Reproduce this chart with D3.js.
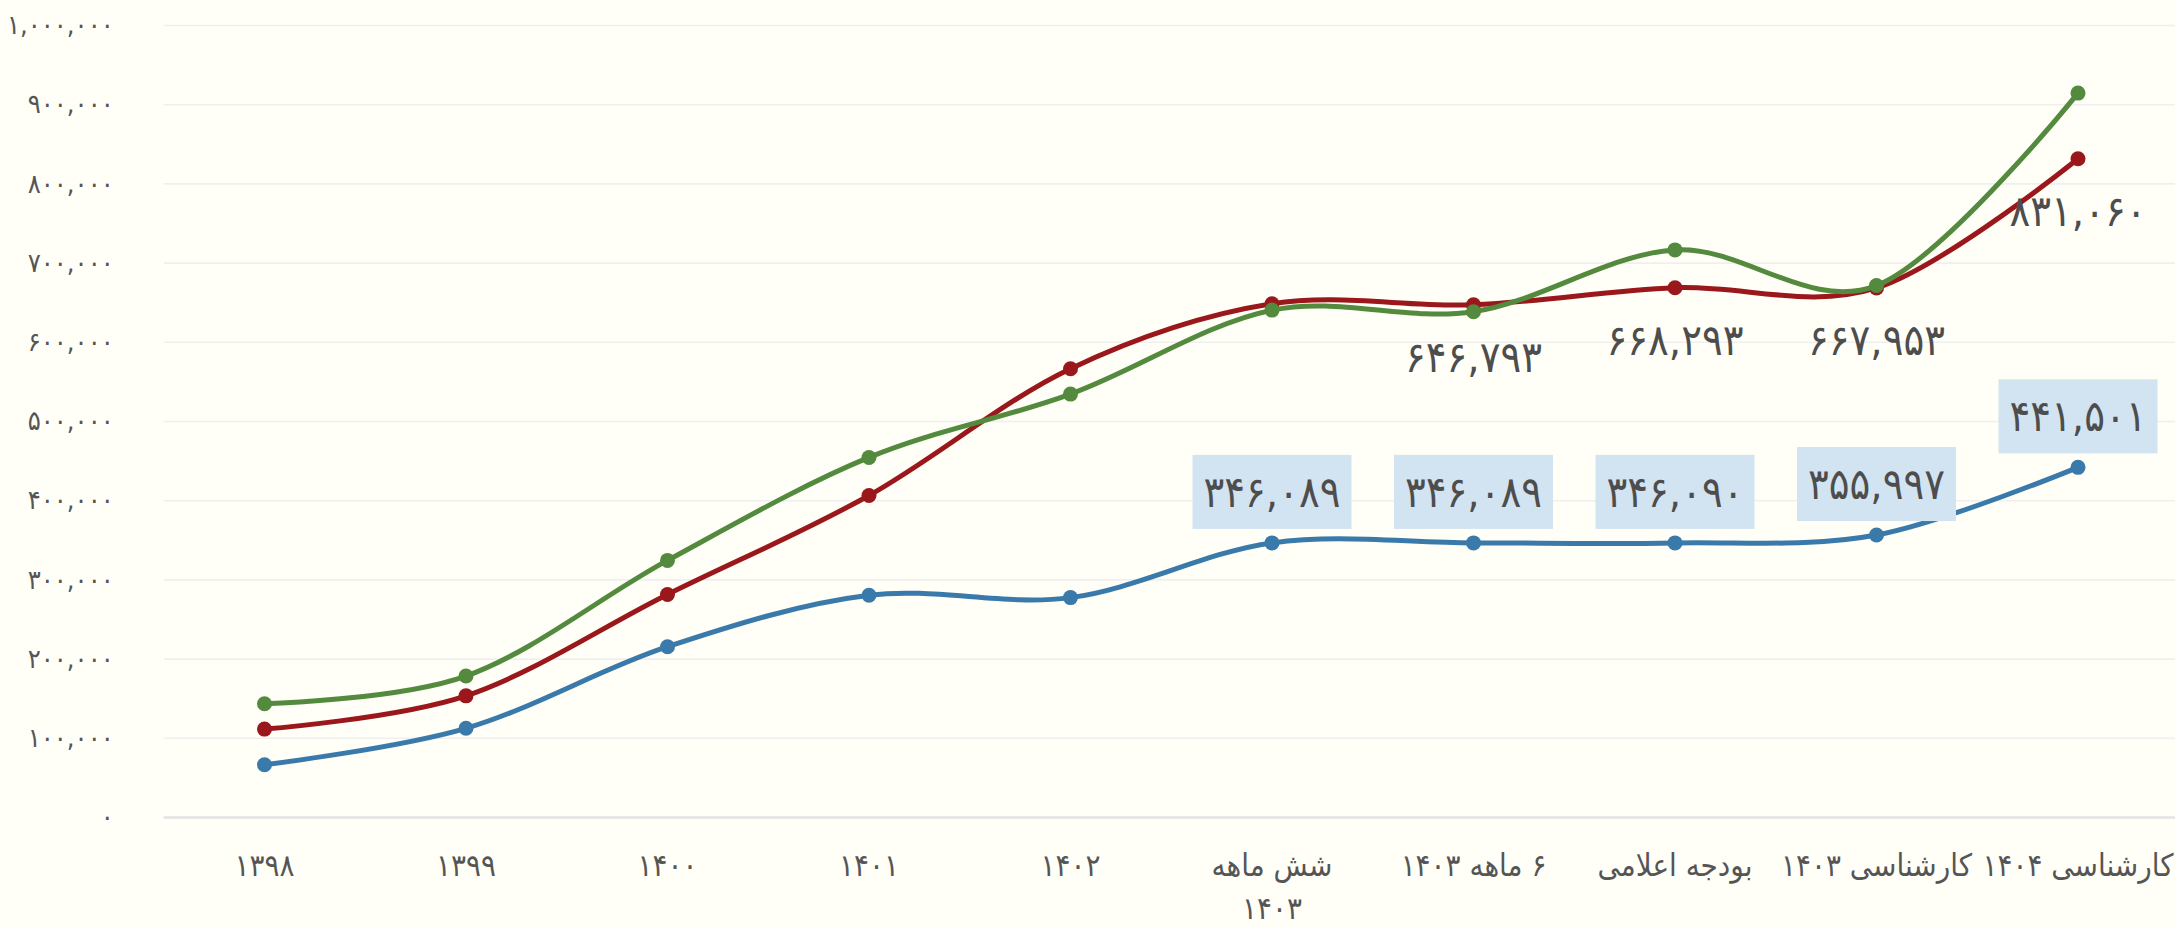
<!DOCTYPE html>
<html>
<head>
<meta charset="utf-8">
<script src="https://cdnjs.cloudflare.com/ajax/libs/d3/7.8.5/d3.min.js"></script>
<style>
  html, body { margin: 0; padding: 0; background: #fffef7; }
  svg { display: block; }
  text { font-family: 'DejaVu Sans Condensed', 'DejaVu Sans', sans-serif; font-stretch: condensed; }
</style>
</head>
<body>
<svg id="chart" width="2175" height="927"></svg>
<script>
// ---- data ----
const categories = ["۱۳۹۸", "۱۳۹۹", "۱۴۰۰", "۱۴۰۱", "۱۴۰۲", "شش ماهه\n۱۴۰۳", "۶ ماهه ۱۴۰۳", "بودجه اعلامی", "کارشناسی ۱۴۰۳", "کارشناسی ۱۴۰۴"];
const blueValues  = [66000, 112000, 215000, 280000, 277000, 346089, 346089, 346090, 355997, 441501];
const redValues   = [111000, 153000, 281000, 406000, 566000, 648000, 646793, 668293, 667953, 831060];
const greenValues = [143000, 178000, 324000, 454000, 534000, 640000, 638000, 716000, 671000, 914000];
const blueLabelIdx = [5, 6, 7, 8, 9];
const redLabelIdx = [6, 7, 8, 9];
const yTicks = [0, 100000, 200000, 300000, 400000, 500000, 600000, 700000, 800000, 900000, 1000000];

// ---- helpers ----
const faDigits = "۰۱۲۳۴۵۶۷۸۹";
const toFa = s => String(s).replace(/[0-9]/g, d => faDigits[+d]);
const fmt = v => toFa(d3.format(",")(v));

const W = 2175, H = 927;
const svg = d3.select("#chart");
svg.append("rect").attr("width", W).attr("height", H).attr("fill", "#fffef7");

const x = d3.scaleBand().domain(categories).range([163.75, 2178.75]);
const cx = c => x(c) + x.bandwidth() / 2;
const y = d3.scaleLinear().domain([0, 1000000]).range([817, 25]);

// grid
const grid = svg.append("g").attr("transform", "translate(163.75,0)")
  .call(d3.axisRight(y).tickValues(yTicks).tickSize(W - 163.75).tickFormat(""));
grid.select(".domain").remove();
grid.selectAll(".tick line")
  .attr("stroke", d => d === 0 ? "#e3e3e3" : "#efeff0")
  .attr("stroke-width", d => d === 0 ? 2.5 : 1.6);

// y axis labels
const yAxis = svg.append("g").attr("transform", "translate(163.75,0)")
  .call(d3.axisLeft(y).tickValues(yTicks).tickSize(0).tickPadding(50).tickFormat(fmt));
yAxis.select(".domain").remove();
yAxis.selectAll("text").attr("fill", "#555").style("font-size", "27px");

// x axis labels
const xAxis = svg.append("g").attr("transform", "translate(0,817)")
  .call(d3.axisBottom(x).tickSize(0).tickFormat(""));
xAxis.select(".domain").remove();
xAxis.selectAll(".tick").each(function(d) {
  const lines = d.split("\n");
  const t = d3.select(this).append("text")
    .attr("fill", "#555").attr("text-anchor", "middle")
    .attr("direction", "rtl").style("font-size", "31px");
  lines.forEach((ln, i) => {
    t.append("tspan").attr("x", 0).attr("y", 59 + i * 43).text(ln);
  });
});

// lines
const series = [
  { name: "blue", values: blueValues, color: "#3a7aab" },
  { name: "red", values: redValues, color: "#9a181b" },
  { name: "green", values: greenValues, color: "#548a3e" }
];
const line = d3.line()
  .x((d, i) => cx(categories[i]))
  .y(d => y(d))
  .curve(d3.curveCardinal.tension(0));

series.forEach(s => {
  const g = svg.append("g");
  g.append("path").datum(s.values)
    .attr("fill", "none").attr("stroke", s.color)
    .attr("stroke-width", 5).attr("stroke-linejoin", "round")
    .attr("d", line);
  g.selectAll("circle").data(s.values).join("circle")
    .attr("cx", (d, i) => cx(categories[i]))
    .attr("cy", d => y(d))
    .attr("r", 7.5).attr("fill", s.color);
});

// blue labels with boxes
const bl = svg.append("g");
blueLabelIdx.forEach(i => {
  const px = cx(categories[i]), py = y(blueValues[i]);
  const g = bl.append("g");
  const rect = g.append("rect").attr("fill", "#d2e3f1");
  const t = g.append("text").attr("x", px).attr("y", py - 14 - 37)
    .attr("text-anchor", "middle").attr("dominant-baseline", "central")
    .attr("fill", "#4d4d4d").style("font-size", "43px")
    .text(fmt(blueValues[i]));
  const w = t.node().getComputedTextLength() + 22;
  rect.attr("x", px - w / 2).attr("y", py - 14 - 74).attr("width", w).attr("height", 74);
});

// red labels
const rl = svg.append("g");
redLabelIdx.forEach(i => {
  const px = cx(categories[i]), py = y(redValues[i]);
  rl.append("text").attr("x", px).attr("y", py + 52)
    .attr("text-anchor", "middle").attr("dominant-baseline", "central")
    .attr("fill", "#4d4d4d").style("font-size", "43px")
    .text(fmt(redValues[i]));
});
</script>
</body>
</html>
